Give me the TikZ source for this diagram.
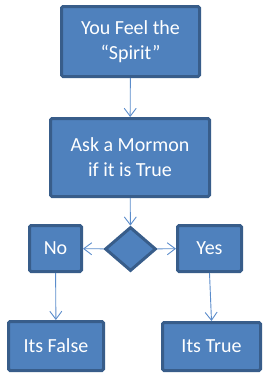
\documentclass[tikz,border=0pt]{standalone}
\usepackage{fontspec}
\setmainfont{Carlito}
\usetikzlibrary{shapes.geometric,arrows.meta}
\definecolor{boxfill}{HTML}{4F81BD}
\definecolor{boxline}{HTML}{385D8A}
\definecolor{arrowc}{HTML}{5B8CCB}
\begin{document}
\begin{tikzpicture}[x=1pt,y=-1pt,
  box/.style={draw=boxline,fill=boxfill,line width=3pt,rounded corners=1.5pt,
    inner sep=0pt,text=white,align=center,font=\fontsize{20}{25}\selectfont},
  dia/.style={draw=boxline,fill=boxfill,line width=3pt,shape=diamond,inner sep=0pt,
    minimum width=51pt,minimum height=44pt},
  conn/.style={draw=arrowc,line width=0.9pt,-{Straight Barb[length=8pt,width=12pt,line width=0.9pt]}}]
\useasboundingbox (0,0) rectangle (268,378);
\node[box,minimum width=138pt,minimum height=70pt] (feel) at (130.5,41.5) {You Feel the\\“Spirit”};
\node[box,minimum width=159pt,minimum height=78pt] (ask) at (130,157.5) {Ask a Mormon\\if it is True};
\node[dia] (d) at (130.5,249) {};
\node[box,minimum width=52pt,minimum height=46pt] (no) at (55.5,248.5) {No};
\node[box,minimum width=64pt,minimum height=46pt] (yes) at (209.5,248.5) {Yes};
\node[box,minimum width=95pt,minimum height=49pt] (false) at (56,346) {Its False};
\node[box,minimum width=98pt,minimum height=48pt] (true) at (211.5,346.5) {Its True};
\draw[conn] (feel) -- (ask);
\draw[conn] (ask) -- (d);
\draw[conn] (d) -- (no);
\draw[conn] (d) -- (yes);
\draw[conn] (no) -- (false);
\draw[conn] (yes.south) -- (true.north);
\end{tikzpicture}
\end{document}
